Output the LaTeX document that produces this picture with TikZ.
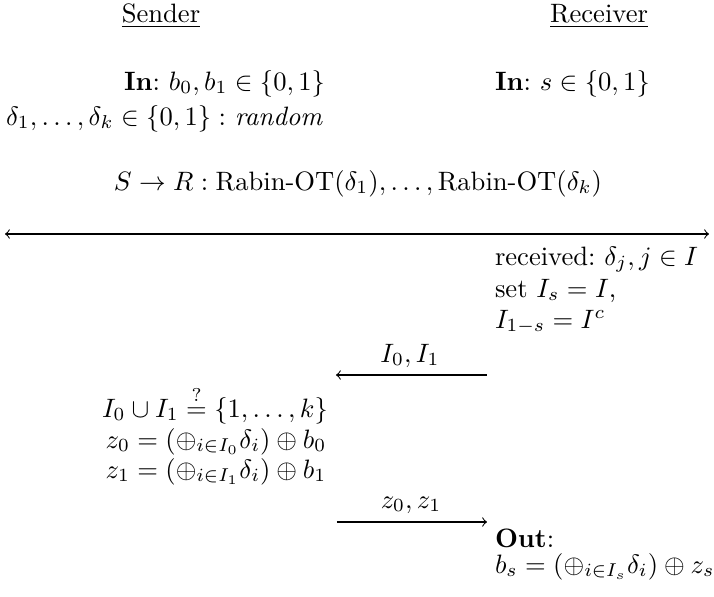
\documentclass[tikz,border=0pt]{standalone}
\usepackage{amsmath,amssymb}
\begin{document}
\begin{tikzpicture}[x=0.376pt,y=-0.376pt,
  lbl/.style={inner sep=0pt, outer sep=0pt},
  msg/.style={->, line width=0.4pt},
  bmsg/.style={<->, line width=0.4pt}]
\useasboundingbox (0,0) rectangle (714,597);
% headers
\node[lbl,anchor=base] (snd) at (161,22) {\underline{Sender}};
\node[lbl,anchor=base] (rcv) at (599,22) {\underline{Receiver}};
% inputs
\node[lbl,anchor=base east] (sin) at (325,90) {\textbf{In}:\ $b_0, b_1 \in \{0,1\}$};
\node[lbl,anchor=base west] (srnd) at (6,125) {$\delta_1,\ldots,\delta_k \in \{0,1\}:$ \textit{random}};
\node[lbl,anchor=base west] (rin) at (495,90) {\textbf{In}:\ $s \in \{0,1\}$};
% first message
\node[lbl,anchor=base] (m1) at (358,190) {$S \to R : \text{Rabin-OT}(\delta_1), \ldots, \text{Rabin-OT}(\delta_k)$};
\coordinate (m1l) at (5,234);
\coordinate (m1r) at (709,234);
\draw[bmsg] (m1l) -- (m1r);
% receiver step
\node[lbl,anchor=base west] (r1) at (495,265) {received:\ $\delta_j, j \in I$};
\node[lbl,anchor=base west] (r2) at (495,297) {set $I_s = I$,};
\node[lbl,anchor=base west] (r3) at (495,328) {$I_{1-s} = I^c$};
% second message
\node[lbl,anchor=base] (m2) at (410,362) {$I_0, I_1$};
\coordinate (m2r) at (487,375);
\coordinate (m2l) at (336,375);
\draw[msg] (m2r) -- (m2l);
% sender step
\node[lbl,anchor=base] (s1) at (215,417) {$I_0 \cup I_1 \stackrel{?}{=} \{1,\ldots,k\}$};
\node[lbl,anchor=base] (s2) at (216,448) {$z_0 = (\oplus_{i\in I_0}\delta_i) \oplus b_0$};
\node[lbl,anchor=base] (s3) at (216,478) {$z_1 = (\oplus_{i\in I_1}\delta_i) \oplus b_1$};
% third message
\node[lbl,anchor=base] (m3) at (411,508) {$z_0, z_1$};
\coordinate (m3l) at (337,522);
\coordinate (m3r) at (487,522);
\draw[msg] (m3l) -- (m3r);
% output
\node[lbl,anchor=base west] (o1) at (495,547) {\textbf{Out}:};
\node[lbl,anchor=base west] (o2) at (495,573) {$b_s = (\oplus_{i\in I_s}\delta_i) \oplus z_s$};
\end{tikzpicture}
\end{document}
